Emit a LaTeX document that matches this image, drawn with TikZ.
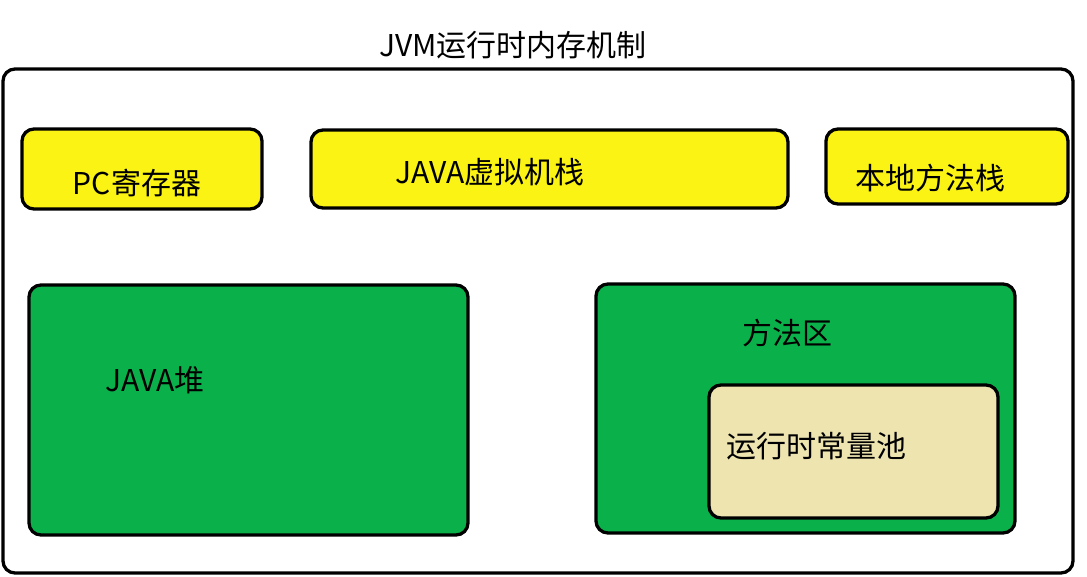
\documentclass[tikz,border=0pt]{standalone}
\usepackage{fontspec}
\setmainfont{Noto Sans CJK SC}
\definecolor{ybox}{HTML}{FAF314}
\definecolor{gbox}{HTML}{0AB14B}
\definecolor{bbox}{HTML}{EDE4B0}
\begin{document}
\begin{tikzpicture}[x=1pt,y=-1pt,
  frame/.style={draw=black,line width=3.3pt,rounded corners=12pt},
  lbl/.style={font=\fontsize{30}{34}\selectfont,inner sep=0pt,text=black}]
\useasboundingbox[fill=white] (0,0) rectangle (1087,576);
\draw[frame] (3,69) rectangle (1073,573);
\node[lbl] (title) at (513,45) {JVM运行时内存机制};
% yellow row
\draw[frame,fill=ybox] (22,129) rectangle (262,209);
\node[lbl] (pc) at (137,183) {PC寄存器};
\draw[frame,fill=ybox] (311,130) rectangle (788,208);
\node[lbl] (jvms) at (490,172) {JAVA虚拟机栈};
\draw[frame,fill=ybox] (826,129) rectangle (1068,204);
\node[lbl] (native) at (930,178) {本地方法栈};
% green
\draw[frame,fill=gbox] (29,285) rectangle (468,535);
\node[lbl] (heap) at (155,380) {JAVA堆};
\draw[frame,fill=gbox] (596,284) rectangle (1015,533);
\node[lbl] (method) at (787,333) {方法区};
\draw[frame,fill=bbox] (709,385) rectangle (998,518);
\node[lbl] (pool) at (816,446) {运行时常量池};
\end{tikzpicture}
\end{document}
